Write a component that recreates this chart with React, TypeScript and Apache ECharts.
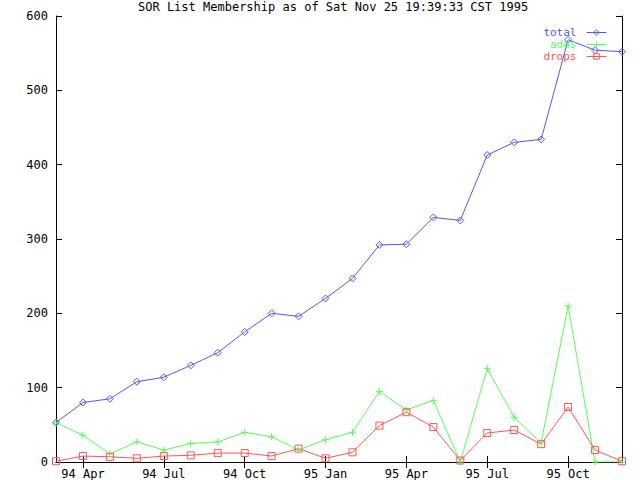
import React, { useEffect, useRef } from "react";
import * as echarts from "echarts";

const months = [
  "94 Mar", "94 Apr", "94 May", "94 Jun", "94 Jul", "94 Aug", "94 Sep", "94 Oct", "94 Nov", "94 Dec",
  "95 Jan", "95 Feb", "95 Mar", "95 Apr", "95 May", "95 Jun", "95 Jul", "95 Aug", "95 Sep", "95 Oct", "95 Nov", "95 Dec",
];
const total = [53, 80, 85, 108, 114, 130, 147, 175, 200, 196, 220, 247, 292, 293, 329, 325, 413, 430, 434, 568, 554, 552];
const adds = [53, 36, 11, 27, 16, 25, 27, 40, 34, 16, 30, 40, 95, 70, 83, 0, 126, 60, 26, 210, 0, 0];
const drops = [1, 8, 7, 5, 8, 9, 12, 12, 8, 18, 5, 13, 49, 67, 47, 2, 39, 43, 24, 74, 16, 1];
const titleText = "SOR List Membership as of Sat Nov 25 19:39:33 CST 1995";

const BLUE = "#5555ff";
const GREEN = "#55ff55";
const RED = "#ff5555";
const FONT = "'DejaVu Sans Mono', 'Liberation Mono', monospace";
const FS = 12;

export default function App() {
  const ref = useRef<HTMLDivElement>(null);
  useEffect(() => {
    if (!ref.current) return;
    const chart = echarts.init(ref.current, null, { renderer: "svg" });
    const showIdx = (i: number) => i % 3 === 1;
    const mk = (name: string, data: number[], color: string, symbol: string) => ({
      name,
      type: "line",
      data,
      symbol,
      symbolSize: 7,
      showSymbol: true,
      lineStyle: { color, width: 1 },
      itemStyle: { color: "transparent", borderColor: color, borderWidth: 1 },
      emphasis: { disabled: true },
    });
    const legItem = (name: string, color: string) => ({
      name,
      textStyle: { color },
      itemStyle: { color: "transparent", borderColor: color, borderWidth: 1 },
      lineStyle: { color, width: 1 },
    });
    chart.setOption({
      animation: false,
      backgroundColor: "#ffffff",
      textStyle: { fontFamily: FONT, fontSize: FS, color: "#000" },
      title: {
        text: titleText,
        left: 138,
        top: 1,
        padding: 0,
        textStyle: { fontFamily: FONT, fontSize: 12, fontWeight: "normal", color: "#000" },
      },
      legend: {
        orient: "vertical",
        right: 33,
        top: 27,
        align: "right",
        itemWidth: 20,
        itemHeight: 7,
        itemGap: 1,
        padding: 0,
        selectedMode: false,
        data: [legItem("total", BLUE), legItem("adds", GREEN), legItem("drops", RED)],
        textStyle: { fontFamily: FONT, fontSize: 11, lineHeight: 11, padding: [0, 5, 0, 0] },
      },
      grid: { left: 56, right: 18, top: 16, bottom: 18, containLabel: false },
      xAxis: [
        {
          type: "category",
          data: months,
          boundaryGap: false,
          axisLine: { show: true, lineStyle: { color: "#000", width: 1 } },
          axisTick: { show: true, inside: true, length: 6, interval: (i: number) => showIdx(i), lineStyle: { color: "#000" } },
          axisLabel: { interval: (i: number) => showIdx(i), margin: 6, color: "#000", fontFamily: FONT, fontSize: FS },
          splitLine: { show: false },
        },
        {
          type: "category",
          data: months,
          position: "top",
          boundaryGap: false,
          axisLine: { show: true, lineStyle: { color: "#000", width: 1 } },
          axisTick: { show: true, inside: true, length: 6, interval: (i: number) => showIdx(i), lineStyle: { color: "#000" } },
          axisLabel: { show: false },
          splitLine: { show: false },
        },
      ],
      yAxis: [
        {
          type: "value",
          min: 0,
          max: 600,
          interval: 100,
          axisLine: { show: true, lineStyle: { color: "#000", width: 1 } },
          axisTick: { show: true, inside: true, length: 6, lineStyle: { color: "#000" } },
          axisLabel: { margin: 8, color: "#000", fontFamily: FONT, fontSize: FS },
          splitLine: { show: false },
        },
        {
          type: "value",
          min: 0,
          max: 600,
          interval: 100,
          position: "right",
          axisLine: { show: true, lineStyle: { color: "#000", width: 1 } },
          axisTick: { show: true, inside: true, length: 6, lineStyle: { color: "#000" } },
          axisLabel: { show: false },
          splitLine: { show: false },
        },
      ],
      series: [
        mk("total", total, BLUE, "diamond"),
        mk("adds", adds, GREEN, "path://M5 0V10M0 5H10"),
        mk("drops", drops, RED, "rect"),
      ],
    });
    return () => chart.dispose();
  }, []);
  return (
    <div
      ref={ref}
      style={{ position: "fixed", left: 0, top: 0, width: 640, height: 480, background: "#fff" }}
    />
  );
}
